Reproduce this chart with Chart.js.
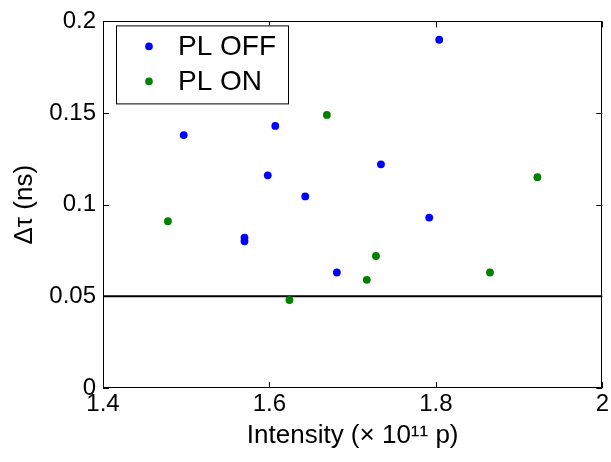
<!DOCTYPE html>
<html>
<head>
<meta charset="utf-8">
<script src="https://cdn.jsdelivr.net/npm/chart.js@4"></script>
<style>
  html, body { margin: 0; padding: 0; background: #fff; }
  #wrap { width: 611px; height: 462px; }
</style>
</head>
<body>
<div id="wrap"><canvas id="plChart" width="611" height="462"></canvas></div>
<script>
// valores
const offX = [1.497, 1.607, 1.598, 1.643, 1.734, 1.804, 1.570, 1.570, 1.681, 1.792];
const offY = [0.138, 0.143, 0.116, 0.1045, 0.122, 0.190, 0.082, 0.080, 0.063, 0.093];
const onX = [1.669, 1.922, 1.478, 1.624, 1.717, 1.728, 1.865];
const onY = [0.149, 0.115, 0.091, 0.048, 0.059, 0.072, 0.063];
const limitX = [1.4, 2.0];
const limitY = [0.05, 0.05];
const xTicks = [1.4, 1.6, 1.8, 2];
const yTicks = [0, 0.05, 0.1, 0.15, 0.2];

const FONT = '"Liberation Sans", Arial, Helvetica, sans-serif';

function toPoints(xs, ys) {
  return xs.map((x, i) => ({ x, y: ys[i] }));
}

function fmt(v) {
  return String(Number(v.toFixed(3)));
}

// moldura + ticks para dentro (estilo matlab)
const framePlugin = {
  id: 'frame',
  afterDatasetsDraw(chart) {
    const { ctx, chartArea: a, scales } = chart;
    const sx = scales.x, sy = scales.y;
    ctx.save();
    ctx.strokeStyle = '#000';
    ctx.lineWidth = 1;
    ctx.strokeRect(Math.round(a.left) + 0.5, Math.round(a.top) + 0.5,
      Math.round(a.right - a.left) - 1, Math.round(a.bottom - a.top) - 1);
    ctx.beginPath();
    xTicks.forEach((v) => {
      const px = Math.round(sx.getPixelForValue(v)) + 0.5;
      ctx.moveTo(px, a.bottom); ctx.lineTo(px, a.bottom - 6);
      ctx.moveTo(px, a.top); ctx.lineTo(px, a.top + 6);
    });
    yTicks.forEach((v) => {
      const py = Math.round(sy.getPixelForValue(v)) + 0.5;
      ctx.moveTo(a.left, py); ctx.lineTo(a.left + 6, py);
      ctx.moveTo(a.right, py); ctx.lineTo(a.right - 6, py);
    });
    ctx.stroke();
    ctx.restore();
  },
};

// legenda dentro da área do gráfico
const legendPlugin = {
  id: 'innerLegend',
  afterDraw(chart) {
    const { ctx, chartArea: a } = chart;
    const items = chart.data.datasets.filter((d) => d.inLegend);
    const boxX = a.left + 13, boxY = a.top + 4, boxW = 172, boxH = 78;
    ctx.save();
    ctx.fillStyle = '#fff';
    ctx.fillRect(boxX, boxY, boxW, boxH);
    ctx.strokeStyle = '#000';
    ctx.lineWidth = 1;
    ctx.strokeRect(boxX + 0.5, boxY + 0.5, boxW, boxH);
    ctx.font = `28px ${FONT}`;
    ctx.textBaseline = 'middle';
    items.forEach((d, i) => {
      const cy = boxY + 21 + i * 35;
      ctx.fillStyle = d.backgroundColor;
      ctx.beginPath();
      ctx.arc(boxX + 33, cy, 3.8, 0, Math.PI * 2);
      ctx.fill();
      ctx.fillStyle = '#000';
      ctx.fillText(d.label, boxX + 62, cy + 1);
    });
    ctx.restore();
  },
};

Chart.defaults.color = '#000';
Chart.defaults.font.family = FONT;

new Chart(document.getElementById('plChart'), {
  type: 'scatter',
  data: {
    datasets: [
      { label: 'PL OFF', data: toPoints(offX, offY), backgroundColor: '#0000ff', borderColor: '#0000ff',
        pointRadius: 3.9, pointBorderWidth: 0, inLegend: true },
      { label: 'PL ON', data: toPoints(onX, onY), backgroundColor: '#008000', borderColor: '#008000',
        pointRadius: 3.9, pointBorderWidth: 0, inLegend: true },
      { label: 'limite', data: toPoints(limitX, limitY), showLine: true, borderColor: '#000',
        backgroundColor: '#000', borderWidth: 2, pointRadius: 0, inLegend: false },
    ],
  },
  options: {
    responsive: false,
    animation: false,
    layout: { padding: { top: 20, right: 7, left: 0, bottom: 0 } },
    plugins: { legend: { display: false }, tooltip: { enabled: false } },
    scales: {
      x: {
        type: 'linear',
        min: 1.4,
        max: 2,
        afterBuildTicks: (s) => { s.ticks = xTicks.map((v) => ({ value: v })); },
        afterFit: (s) => { s.height = 74; },
        grid: { display: false, drawTicks: false },
        border: { display: false },
        ticks: { font: { size: 24 }, padding: 2, maxRotation: 0, callback: (v) => fmt(v) },
        title: { display: true, text: 'Intensity (× 10¹¹ p)', font: { size: 26 }, padding: { top: 0, bottom: 11 } },
      },
      y: {
        type: 'linear',
        min: 0,
        max: 0.2,
        afterBuildTicks: (s) => { s.ticks = yTicks.map((v) => ({ value: v })); },
        afterFit: (s) => { s.width = 103; },
        grid: { display: false, drawTicks: false },
        border: { display: false },
        ticks: { font: { size: 24 }, padding: 7, callback: (v) => fmt(v) },
        title: { display: true, text: 'Δτ (ns)', font: { size: 26 }, padding: { top: 9, bottom: 0 } },
      },
    },
  },
  plugins: [framePlugin, legendPlugin],
});
</script>
</body>
</html>
